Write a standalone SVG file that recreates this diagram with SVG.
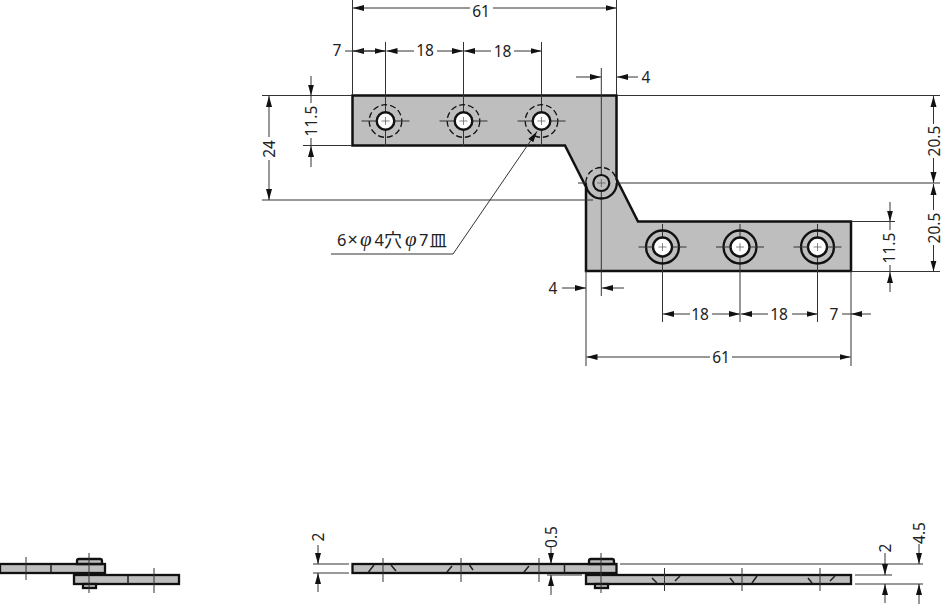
<svg xmlns="http://www.w3.org/2000/svg" width="944" height="604" viewBox="0 0 944 604">
<style>
text{font-family:"Noto Sans","Open Sans","Liberation Sans",sans-serif;font-size:15.5px;fill:#222;text-anchor:middle}
.p{fill:#bebebe;stroke:#111;stroke-width:2.5;stroke-linejoin:miter}
.t{fill:#bebebe;stroke:#111;stroke-width:2.3}
.h{fill:#fff;stroke:#111;stroke-width:2.4}
.g{fill:#bebebe;stroke:#111;stroke-width:2.2}
.r{fill:none;stroke:#111;stroke-width:2.3}
.ds{fill:none;stroke:#111;stroke-width:1.3;stroke-dasharray:6 3}
.l{stroke:#333;stroke-width:1;fill:none}
.c{stroke:#555;stroke-width:.7;fill:none}
.a{stroke:#333;stroke-width:1;fill:none;marker-end:url(#a)}
.k{stroke:#222;stroke-width:1.5;fill:none}
</style>
<defs>
<marker id="a" markerUnits="userSpaceOnUse" markerWidth="12" markerHeight="7" refX="11" refY="3.5" orient="auto"><path d="M0 .5L11 3.5L0 6.500Z" fill="#111"/></marker>
<g id="cross"><path class="l" d="M-24 0H-9M9 0H24"/><path class="c" d="M-4 0H4M0 -4V4"/></g>
</defs>

<g id="plate">
<path class="p" d="M352.5 95.5H616.5V179L638 221.5H851V271H586V187L565 145.5H352.5Z"/>
</g>

<g id="connectors">
<path class="l" d="M352.500 0V95M616.500 0V95M385.500 42V146M463.500 42V146M541.500 42V146M601.300 68V296"/>
<path class="l" d="M262 95.500H352M617 95.500H940M303 145.500H352M262 200H593M617 183H940M851 221.500H895M851 271.500H940"/>
<path class="l" d="M586 271V366M851 271V366M662.500 224V322M740 224V322M817.500 224V322"/>
<path class="l" d="M313 564H349M313 573H349M547 575H582M620 564H923M855 575H892M855 584H923"/>
<path class="a" d="M470 8H353"/><path class="a" d="M493 8H616.500"/>
<path class="a" d="M385 51H353"/><path class="a" d="M345 51H385.500"/><path class="a" d="M414 51H386.500"/><path class="a" d="M437 51H463"/><path class="a" d="M491 51H464"/><path class="a" d="M514 51H541.500"/>
<path class="a" d="M576 77H601"/><path class="a" d="M638 77H617"/>
<path class="a" d="M311 76V95.500"/><path class="a" d="M311 167V146"/><path class="l" d="M311 95V103M311 138V146"/>
<path class="a" d="M269 137V96"/><path class="a" d="M269 160V200"/>
<path class="a" d="M933.500 124V96"/><path class="a" d="M933.500 158V183"/><path class="a" d="M933.500 210V184"/><path class="a" d="M933.500 245V271.500"/>
<path class="a" d="M890 202V221.500"/><path class="a" d="M890 292V272"/><path class="l" d="M890 222V230M890 265V272"/>
<path class="a" d="M562 288H586"/><path class="a" d="M624 288H602"/>
<path class="a" d="M690 314H663"/><path class="a" d="M712 314H740"/><path class="a" d="M768 314H741"/><path class="a" d="M792 314H817.500"/><path class="a" d="M871 314H851"/><path class="l" d="M842 314H851"/>
<path class="a" d="M710 357H586.500"/><path class="a" d="M732 357H850.500"/>
<path class="a" d="M318 545V564"/><path class="a" d="M318 592V573"/>
<path class="a" d="M551 547V564"/><path class="a" d="M551 595V575"/>
<path class="a" d="M885 553V575"/><path class="a" d="M885 603V584"/>
<path class="a" d="M919 544V564"/><path class="a" d="M919 604V584"/>
<path class="a" d="M453 254L537 131.500"/><path class="l" d="M331 254H453"/>
</g>

<g id="pivot">
<path class="r" d="M585.800 183A15.500 15.500 0 0 0 616.800 183"/>
<path class="ds" d="M585.800 183A15.500 15.500 0 0 1 616.800 183"/>
<circle class="g" cx="601.300" cy="183" r="8"/>
<path class="l" d="M578 183H586"/><path class="c" d="M597 183H605.500M601.300 179V187"/>
</g>
<g id="holes-upper">
<g transform="translate(385.5 121)"><circle class="ds" r="16.3"/><circle class="h" r="8.800"/><use href="#cross"/></g>
<g transform="translate(463.5 121)"><circle class="ds" r="16.3"/><circle class="h" r="8.800"/><use href="#cross"/></g>
<g transform="translate(541.5 121)"><circle class="ds" r="16.3"/><circle class="h" r="8.800"/><use href="#cross"/></g>
</g>
<g id="holes-lower">
<g transform="translate(662.5 247)"><circle class="r" r="16.5"/><circle class="h" r="9.500"/><use href="#cross"/></g>
<g transform="translate(740 247)"><circle class="r" r="16.5"/><circle class="h" r="9.500"/><use href="#cross"/></g>
<g transform="translate(817.5 247)"><circle class="r" r="16.5"/><circle class="h" r="9.500"/><use href="#cross"/></g>
</g>

<g id="side-view-left">
<rect class="t" x="0" y="564" width="105" height="9"/>
<path class="t" d="M77 564V561Q77 559 79 559H100Q102 559 102 561V564Z"/>
<rect class="t" x="74" y="575" width="105" height="9"/>
<rect class="t" x="83" y="584" width="13" height="4"/>
<path class="k" d="M51 564V573M128 575V584"/>
<path class="l" d="M26 557V580M154 568V593M89 553V593"/>
</g>
<g id="side-view-right">
<rect class="t" x="352.5" y="564" width="264" height="9"/>
<path class="t" d="M589 564V561Q589 559 591 559H612Q614 559 614 561V564Z"/>
<rect class="t" x="586" y="575" width="265" height="9"/>
<rect class="t" x="595" y="584" width="13" height="4"/>
<path class="k" d="M564.500 564V573M368.500 572L374 565M391 565L396 571M447 572L452 566M469.500 565L473 570M524 572L529 566M652 578L657 583M675 581L680 576M730 578L734 583M752 583L757 576M808 578L812 583M830 581L835 576"/>
<path class="l" d="M383 558V582M461 558V582M539 558V582M601 553V593M664.500 568V591M742 568V591M820 568V591"/>
</g>

<g id="labels">
<text x="481" y="16.600">61</text>
<text x="337" y="56">7</text><text x="425" y="56">18</text><text x="502.500" y="57">18</text>
<text x="646" y="83">4</text>
<text x="553" y="294">4</text>
<text x="700" y="320">18</text><text x="779" y="320">18</text><text x="834" y="320">7</text>
<text x="721" y="363">61</text>
<text transform="translate(317 121) rotate(-90)">11.5</text>
<text transform="translate(275 149) rotate(-90)">24</text>
<text transform="translate(939.500 141) rotate(-90)">20.5</text>
<text transform="translate(939.500 228) rotate(-90)">20.5</text>
<text transform="translate(895 248) rotate(-90)">11.5</text>
<text transform="translate(324 537) rotate(-90)">2</text>
<text transform="translate(557 537) rotate(-90)">0.5</text>
<text transform="translate(891 548) rotate(-90)">2</text>
<text transform="translate(925 533) rotate(-90)">4.5</text>
<text x="338" y="246" style="text-anchor:start;font-size:16.500px"><tspan x="337">6</tspan><tspan x="347.500" font-size="18px">×</tspan><tspan x="360" font-family="Liberation Serif,serif" font-style="italic" font-size="21px">φ</tspan><tspan x="374.500">4</tspan><tspan x="384" y="247" font-family="Noto Sans CJK JP,sans-serif" font-size="18px">穴</tspan><tspan x="405" y="246" font-family="Liberation Serif,serif" font-style="italic" font-size="21px">φ</tspan><tspan x="419">7</tspan><tspan x="429.500" y="247" font-family="Noto Sans CJK JP,sans-serif" font-size="17.500px">皿</tspan></text>
</g>
</svg>
